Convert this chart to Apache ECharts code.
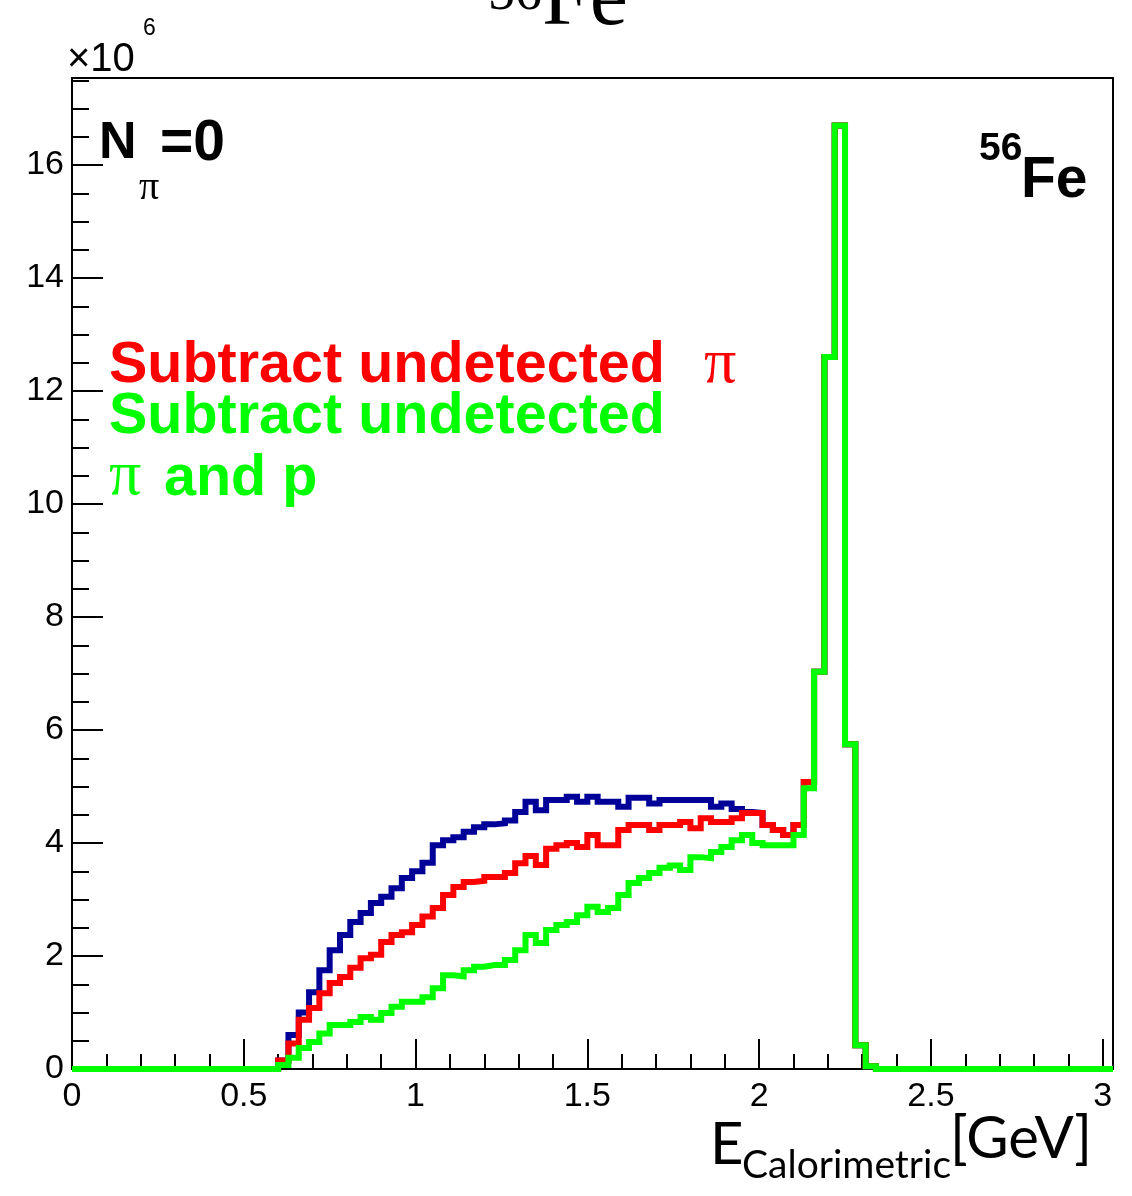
<!DOCTYPE html>
<html>
<head>
<meta charset="utf-8">
<script src="https://cdn.jsdelivr.net/npm/echarts@6/dist/echarts.min.js"></script>
<style>
  html, body { margin: 0; padding: 0; background: #fff; }
  #chart { width: 1132px; height: 1196px; }
</style>
</head>
<body>
<div id="chart"></div>
<script>
// Calorimetric energy reconstruction, 56Fe, events with no pions (counts in units of 1e6)
const binWidth = 0.03;        // GeV
const firstFilledEdge = 0.60; // left edge of the first non-empty bin
const axisMaxE = 3.03;        // GeV

// Reconstructed energy (all)
const allEvents = [
  0.15, 0.6, 1.0, 1.36, 1.75, 2.1, 2.37, 2.6, 2.76, 2.94, 3.05, 3.2, 3.38, 3.5,
  3.65, 3.96, 4.05, 4.1, 4.2, 4.28, 4.33, 4.35, 4.4, 4.55,
  4.73, 4.58, 4.76, 4.76, 4.82, 4.73, 4.82, 4.73, 4.73, 4.64,
  4.8, 4.8, 4.7, 4.76, 4.76, 4.76, 4.76, 4.76, 4.64, 4.7,
  4.6, 4.55, 4.53, 4.32, 4.23, 4.14, 4.32, 5.08, 7.03, 12.6,
  16.7, 5.75, 0.42, 0.05
];
// Subtract undetected pi
const subPi = [
  0.15, 0.45, 0.87, 1.08, 1.34, 1.52, 1.63, 1.79, 1.96, 2.02, 2.25, 2.37, 2.42, 2.55,
  2.7, 2.85, 3.08, 3.22, 3.31, 3.33, 3.4, 3.4, 3.47, 3.64,
  3.77, 3.61, 3.9, 3.96, 4.0, 3.93, 4.14, 3.96, 3.96, 4.23,
  4.32, 4.32, 4.23, 4.32, 4.32, 4.37, 4.26, 4.44, 4.37, 4.37,
  4.44, 4.53, 4.53, 4.32, 4.23, 4.14, 4.32, 5.08, 7.03, 12.6,
  16.7, 5.75, 0.42, 0.05
];
// Subtract undetected pi and p
const subPiP = [
  0.07, 0.2, 0.37, 0.48, 0.63, 0.78, 0.78, 0.83, 0.92, 0.87, 0.99, 1.1, 1.19, 1.19,
  1.27, 1.43, 1.66, 1.64, 1.75, 1.81, 1.84, 1.84, 1.93, 2.1,
  2.37, 2.23, 2.46, 2.55, 2.6, 2.72, 2.87, 2.78, 2.85, 3.08,
  3.29, 3.38, 3.47, 3.56, 3.6, 3.52, 3.75, 3.73, 3.84, 3.93,
  4.05, 4.14, 4.0, 3.96, 3.96, 3.96, 4.14, 4.97, 7.03, 12.6,
  16.7, 5.75, 0.42, 0.05
];

const xTicks = ['0', '0.5', '1', '1.5', '2', '2.5', '3'];
const yTicks = ['0', '2', '4', '6', '8', '10', '12', '14', '16'];

// Histogram outline: one point per bin left edge (empty bins are zero), closed at the axis end
function histPoints(values) {
  const nBins = Math.round(axisMaxE / binWidth);
  const offset = Math.round(firstFilledEdge / binWidth);
  const pts = [];
  for (let i = 0; i < nBins; i++) {
    const k = i - offset;
    const v = (k >= 0 && k < values.length) ? values[k] : 0;
    pts.push([+(i * binWidth).toFixed(4), v]);
  }
  pts.push([axisMaxE, 0]);
  return pts;
}

const tickFont = 'Liberation Sans, Arial, sans-serif';
const chart = echarts.init(document.getElementById('chart'), null, { renderer: 'canvas' });

function histSeries(name, values, color) {
  return {
    name: name, type: 'line', step: 'end', data: histPoints(values),
    showSymbol: false, symbol: 'none', clip: true, animation: false,
    lineStyle: { color: color, width: 6, join: 'miter' }
  };
}

chart.setOption({
  animation: false,
  backgroundColor: '#ffffff',
  grid: { left: 72, right: 19, top: 78, bottom: 127, show: true, borderColor: '#000', borderWidth: 2, backgroundColor: 'transparent' },
  xAxis: {
    type: 'value', min: 0, max: axisMaxE, interval: 0.5,
    axisLine: { show: true, onZero: false, lineStyle: { color: '#000', width: 2 } },
    axisTick: { show: true, inside: true, length: 30, lineStyle: { color: '#000', width: 2 } },
    minorTick: { show: true, splitNumber: 5, length: 15, lineStyle: { color: '#000', width: 2 } },
    splitLine: { show: false },
    axisLabel: {
      show: true, margin: 11, showMaxLabel: false, color: '#000',
      fontFamily: tickFont, fontSize: 34,
      formatter: function (v) { const i = Math.round(v / 0.5); return Math.abs(v - i * 0.5) < 1e-6 ? xTicks[i] : ''; }
    }
  },
  yAxis: {
    type: 'value', min: 0, max: 17.54, interval: 2,
    axisLine: { show: true, lineStyle: { color: '#000', width: 2 } },
    axisTick: { show: true, inside: true, length: 31, lineStyle: { color: '#000', width: 2 } },
    minorTick: { show: true, splitNumber: 4, length: 17, lineStyle: { color: '#000', width: 2 } },
    splitLine: { show: false },
    axisLabel: {
      show: true, margin: 8, showMaxLabel: false, color: '#000',
      fontFamily: tickFont, fontSize: 34,
      formatter: function (v) { const i = Math.round(v / 2); return Math.abs(v - i * 2) < 1e-6 ? yTicks[i] : ''; }
    }
  },
  series: [
    histSeries('Reconstructed', allEvents, '#000099'),
    histSeries('Subtract undetected \u03c0', subPi, '#ff0000'),
    histSeries('Subtract undetected \u03c0 and p', subPiP, '#00ff00')
  ],
  graphic: [
    // title, partly above the page edge
    { type: 'text', left: 488, top: -32, style: { text: '56', font: '54px "Liberation Serif", serif', fill: '#000' } },
    { type: 'text', left: 542, top: -42, style: { text: 'Fe', font: '86px "Liberation Serif", serif', fill: '#000' } },
    // exponent of the vertical axis
    { type: 'text', left: 67, top: 40, style: { text: '\u00d710', font: '40px "Liberation Sans", Arial, sans-serif', fill: '#000' } },
    { type: 'text', left: 143, top: 17, style: { text: '6', font: '23px "Liberation Sans", Arial, sans-serif', fill: '#000' } },
    // N_pi = 0
    { type: 'text', left: 99, top: 118, style: { text: 'N', font: 'bold 52px "Liberation Sans", Arial, sans-serif', fill: '#000' } },
    { type: 'text', left: 139, top: 168, style: { text: '\u03c0', font: '40px "Liberation Serif", serif', fill: '#000' } },
    { type: 'text', left: 160, top: 116, style: { text: '=0', font: 'bold 57px "Liberation Sans", Arial, sans-serif', fill: '#000' } },
    // nucleus label
    { type: 'text', left: 979, top: 130, style: { text: '56', font: 'bold 39px "Liberation Sans", Arial, sans-serif', fill: '#000' } },
    { type: 'text', left: 1021, top: 153, style: { text: 'Fe', font: 'bold 57px "Liberation Sans", Arial, sans-serif', fill: '#000' } },
    // series labels
    { type: 'text', left: 109, top: 337, style: { text: 'Subtract undetected', font: 'bold 57.5px "Liberation Sans", Arial, sans-serif', fill: '#ff0000' } },
    { type: 'text', left: 704, top: 333, style: { text: '\u03c0', font: '64px "Liberation Serif", serif', fill: '#ff0000' } },
    { type: 'text', left: 109, top: 388, style: { text: 'Subtract undetected', font: 'bold 57.5px "Liberation Sans", Arial, sans-serif', fill: '#00ff00' } },
    { type: 'text', left: 109, top: 445, style: { text: '\u03c0', font: '64px "Liberation Serif", serif', fill: '#00ff00' } },
    { type: 'text', left: 164, top: 450, style: { text: 'and p', font: 'bold 57.5px "Liberation Sans", Arial, sans-serif', fill: '#00ff00' } },
    // horizontal axis title
    { type: 'text', left: 710, top: 1116, style: { text: 'E', font: '58px Lato, sans-serif', fill: '#000' } },
    { type: 'text', left: 742, top: 1146, style: { text: 'Calorimetric', font: '39px Lato, sans-serif', fill: '#000' } },
    { type: 'text', left: 950, top: 1110, style: { text: '[GeV]', font: '58px Lato, sans-serif', fill: '#000' } }
  ]
});
</script>
</body>
</html>
